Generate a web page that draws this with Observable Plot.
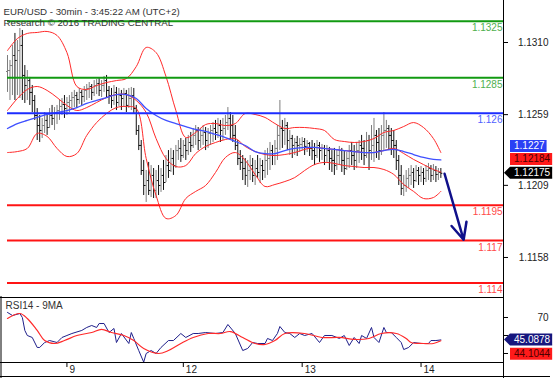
<!DOCTYPE html>
<html><head><meta charset="utf-8">
<script src="https://cdn.jsdelivr.net/npm/d3@7"></script>
<script src="https://cdn.jsdelivr.net/npm/@observablehq/plot@0.6"></script>
<style>
html,body{margin:0;padding:0;background:#fff;}
#chart{position:relative;width:554px;height:378px;overflow:hidden;background:#fff;}
#chart svg{position:absolute;left:0;display:block;}
</style></head><body><div id="chart"></div>
<script>
// ---------- DATA ----------
const titleLines = ["EUR/USD - 30min - 3:45:22 AM (UTC+2)", "Research \u00A9 2016 TRADING CENTRAL"];
const rsiTitle = "RSI14 - 9MA";

// 30-minute OHLC bars (bar index 0 = Sep 8, 12:00)
const opens = [1.12895,1.12902,1.12937,1.13008,1.12973,1.13043,1.13079,1.12867,1.12796,1.12831,
1.12747,1.12690,1.12584,1.12513,1.12478,1.12513,1.12549,1.12499,1.12584,1.12563,
1.12605,1.12619,1.12648,1.12662,1.12633,1.12676,1.12690,1.12711,1.12725,1.12697,
1.12747,1.12718,1.12761,1.12775,1.12789,1.12747,1.12796,1.12810,1.12761,1.12796,
1.12831,1.12761,1.12725,1.12690,1.12747,1.12676,1.12725,1.12704,1.12739,1.12655,
1.12704,1.12725,1.12633,1.12478,1.12372,1.12195,1.12089,1.12124,1.12054,1.12160,
1.12054,1.12124,1.12089,1.12160,1.12110,1.12230,1.12195,1.12280,1.12230,1.12336,
1.12351,1.12301,1.12372,1.12336,1.12393,1.12372,1.12443,1.12478,1.12407,1.12443,
1.12464,1.12407,1.12457,1.12478,1.12492,1.12464,1.12513,1.12478,1.12492,1.12534,
1.12563,1.12513,1.12443,1.12372,1.12280,1.12252,1.12209,1.12160,1.12195,1.12230,
1.12160,1.12209,1.12181,1.12230,1.12195,1.12266,1.12280,1.12336,1.12301,1.12351,
1.12443,1.12492,1.12478,1.12513,1.12407,1.12421,1.12372,1.12393,1.12372,1.12379,
1.12400,1.12365,1.12386,1.12351,1.12336,1.12301,1.12372,1.12336,1.12351,1.12301,
1.12336,1.12280,1.12266,1.12230,1.12301,1.12336,1.12266,1.12209,1.12280,1.12336,
1.12301,1.12266,1.12336,1.12372,1.12351,1.12301,1.12407,1.12336,1.12372,1.12443,
1.12393,1.12336,1.12443,1.12478,1.12492,1.12443,1.12407,1.12372,1.12266,1.12160,
1.12068,1.12089,1.12139,1.12160,1.12181,1.12124,1.12195,1.12160,1.12181,1.12139,
1.12195,1.12209,1.12160,1.12195,1.12167,1.12181];
const highs = [1.13008,1.12973,1.13079,1.13164,1.13114,1.13199,1.13185,1.12937,1.12902,1.12853,
1.12796,1.12725,1.12633,1.12584,1.12563,1.12605,1.12584,1.12633,1.12655,1.12640,
1.12655,1.12690,1.12704,1.12725,1.12711,1.12725,1.12747,1.12761,1.12747,1.12775,
1.12761,1.12789,1.12803,1.12817,1.12803,1.12831,1.12838,1.12845,1.12831,1.12860,
1.12867,1.12789,1.12775,1.12796,1.12782,1.12775,1.12761,1.12775,1.12761,1.12775,
1.12782,1.12775,1.12655,1.12513,1.12407,1.12266,1.12195,1.12252,1.12230,1.12209,
1.12195,1.12230,1.12209,1.12266,1.12301,1.12336,1.12351,1.12336,1.12372,1.12407,
1.12421,1.12407,1.12421,1.12443,1.12464,1.12492,1.12513,1.12499,1.12492,1.12513,
1.12499,1.12492,1.12513,1.12534,1.12549,1.12563,1.12549,1.12563,1.12584,1.12640,
1.12605,1.12584,1.12513,1.12407,1.12336,1.12301,1.12280,1.12266,1.12301,1.12280,
1.12266,1.12301,1.12280,1.12266,1.12336,1.12351,1.12393,1.12372,1.12407,1.12513,
1.12690,1.12549,1.12563,1.12534,1.12478,1.12443,1.12421,1.12436,1.12421,1.12428,
1.12421,1.12407,1.12393,1.12407,1.12386,1.12407,1.12393,1.12379,1.12372,1.12372,
1.12358,1.12336,1.12351,1.12336,1.12365,1.12351,1.12336,1.12322,1.12372,1.12393,
1.12372,1.12393,1.12407,1.12443,1.12407,1.12464,1.12443,1.12513,1.12563,1.12478,
1.12492,1.12513,1.12605,1.12549,1.12513,1.12492,1.12478,1.12407,1.12301,1.12230,
1.12160,1.12195,1.12209,1.12230,1.12209,1.12230,1.12216,1.12223,1.12209,1.12230,
1.12245,1.12230,1.12237,1.12223,1.12209,1.12209];
const lows = [1.12747,1.12690,1.12725,1.12690,1.12725,1.12704,1.12690,1.12669,1.12690,1.12655,
1.12605,1.12549,1.12407,1.12393,1.12421,1.12457,1.12443,1.12492,1.12513,1.12478,
1.12520,1.12549,1.12584,1.12563,1.12584,1.12605,1.12619,1.12640,1.12633,1.12662,
1.12655,1.12676,1.12690,1.12704,1.12690,1.12718,1.12732,1.12718,1.12711,1.12747,
1.12711,1.12662,1.12633,1.12655,1.12619,1.12648,1.12619,1.12640,1.12605,1.12633,
1.12619,1.12598,1.12443,1.12336,1.12160,1.12018,1.11969,1.12018,1.12004,1.11997,
1.11997,1.12018,1.12040,1.12054,1.12110,1.12139,1.12181,1.12160,1.12209,1.12266,
1.12252,1.12280,1.12266,1.12301,1.12322,1.12351,1.12372,1.12336,1.12351,1.12372,
1.12336,1.12351,1.12372,1.12393,1.12407,1.12421,1.12393,1.12407,1.12443,1.12478,
1.12407,1.12393,1.12336,1.12230,1.12195,1.12124,1.12089,1.12075,1.12124,1.12110,
1.12089,1.12139,1.12103,1.12124,1.12139,1.12160,1.12195,1.12230,1.12230,1.12266,
1.12336,1.12351,1.12372,1.12336,1.12301,1.12280,1.12301,1.12294,1.12322,1.12336,
1.12301,1.12322,1.12294,1.12266,1.12230,1.12280,1.12252,1.12266,1.12230,1.12252,
1.12195,1.12181,1.12160,1.12195,1.12230,1.12181,1.12160,1.12195,1.12209,1.12230,
1.12195,1.12209,1.12245,1.12266,1.12230,1.12280,1.12195,1.12266,1.12252,1.12280,
1.12266,1.12301,1.12336,1.12351,1.12336,1.12301,1.12280,1.12195,1.12089,1.12018,
1.12011,1.12040,1.12068,1.12089,1.12068,1.12110,1.12089,1.12110,1.12089,1.12110,
1.12124,1.12110,1.12124,1.12110,1.12124,1.12139];
const closes = [1.12902,1.12937,1.13008,1.12973,1.13043,1.13079,1.12867,1.12796,1.12831,1.12747,
1.12690,1.12584,1.12513,1.12478,1.12513,1.12549,1.12499,1.12584,1.12563,1.12605,
1.12619,1.12648,1.12662,1.12633,1.12676,1.12690,1.12711,1.12725,1.12697,1.12747,
1.12718,1.12761,1.12775,1.12789,1.12747,1.12796,1.12810,1.12761,1.12796,1.12831,
1.12761,1.12725,1.12690,1.12747,1.12676,1.12725,1.12704,1.12739,1.12655,1.12704,
1.12725,1.12633,1.12478,1.12372,1.12195,1.12089,1.12124,1.12054,1.12160,1.12054,
1.12124,1.12089,1.12160,1.12110,1.12230,1.12195,1.12280,1.12230,1.12336,1.12351,
1.12301,1.12372,1.12336,1.12393,1.12372,1.12443,1.12478,1.12407,1.12443,1.12464,
1.12407,1.12457,1.12478,1.12492,1.12464,1.12513,1.12478,1.12492,1.12534,1.12563,
1.12513,1.12443,1.12372,1.12280,1.12252,1.12209,1.12160,1.12195,1.12230,1.12160,
1.12209,1.12181,1.12230,1.12195,1.12266,1.12280,1.12336,1.12301,1.12351,1.12443,
1.12492,1.12478,1.12513,1.12407,1.12421,1.12372,1.12393,1.12372,1.12379,1.12400,
1.12365,1.12386,1.12351,1.12336,1.12301,1.12372,1.12336,1.12351,1.12301,1.12336,
1.12280,1.12266,1.12230,1.12301,1.12336,1.12266,1.12209,1.12280,1.12336,1.12301,
1.12266,1.12336,1.12372,1.12351,1.12301,1.12407,1.12336,1.12372,1.12443,1.12393,
1.12336,1.12443,1.12478,1.12492,1.12443,1.12407,1.12372,1.12266,1.12160,1.12068,
1.12089,1.12139,1.12160,1.12181,1.12124,1.12195,1.12160,1.12181,1.12139,1.12195,
1.12209,1.12160,1.12195,1.12167,1.12181,1.12175];

// Bollinger bands and blue moving average, sampled at these bar indices
const bandIdx = [0,4,8,12,16,20,24,28,32,36,40,44,48,52,56,60,64,68,72,76,80,84,88,92,96,100,104,108,112,116,120,124,128,132,136,140,144,148,152,156,160,164,168,172,175];
const bbUpper = [1.13043,1.13128,1.13164,1.13171,1.13178,1.13150,1.13029,1.12789,1.12768,1.12796,1.12817,1.12831,1.12845,1.12930,1.13065,1.13029,1.12860,1.12619,1.12428,1.12464,1.12520,1.12527,1.12513,1.12527,1.12598,1.12591,1.12570,1.12527,1.12492,1.12499,1.12499,1.12492,1.12478,1.12414,1.12400,1.12393,1.12400,1.12421,1.12464,1.12478,1.12506,1.12534,1.12499,1.12421,1.12322];
const bbMiddle = [1.12619,1.12704,1.12768,1.12789,1.12761,1.12711,1.12655,1.12619,1.12640,1.12676,1.12711,1.12732,1.12732,1.12690,1.12605,1.12421,1.12280,1.12223,1.12230,1.12315,1.12365,1.12393,1.12414,1.12421,1.12365,1.12329,1.12308,1.12301,1.12308,1.12322,1.12344,1.12358,1.12351,1.12344,1.12336,1.12329,1.12322,1.12322,1.12336,1.12351,1.12315,1.12273,1.12237,1.12202,1.12184];
const bbLower = [1.12322,1.12329,1.12351,1.12457,1.12436,1.12351,1.12294,1.12315,1.12443,1.12534,1.12598,1.12640,1.12648,1.12633,1.12280,1.12018,1.11856,1.11877,1.11997,1.12047,1.12089,1.12181,1.12287,1.12322,1.12266,1.12167,1.12082,1.12096,1.12117,1.12145,1.12195,1.12237,1.12252,1.12245,1.12230,1.12223,1.12216,1.12216,1.12202,1.12167,1.12096,1.12047,1.11997,1.12004,1.12047];
const maBlue = [1.12492,1.12527,1.12549,1.12570,1.12591,1.12605,1.12619,1.12640,1.12669,1.12690,1.12711,1.12732,1.12732,1.12704,1.12633,1.12584,1.12549,1.12527,1.12506,1.12485,1.12471,1.12450,1.12428,1.12400,1.12372,1.12329,1.12315,1.12315,1.12336,1.12351,1.12358,1.12358,1.12351,1.12344,1.12336,1.12329,1.12322,1.12322,1.12336,1.12344,1.12329,1.12308,1.12287,1.12273,1.12270];

// key levels
const levelValues = [1.1325, 1.1285, 1.126, 1.1195, 1.117, 1.114];
const levelLabels = ["1.1325", "1.1285", "1.126", "1.1195", "1.117", "1.114"];
const levelKind = ["resistance", "resistance", "pivot", "support", "support", "support"];

// projected move arrow (bar index, price)
const arrowIdx = [176.5, 184.2];
const arrowPrice = [1.12172, 1.11705];

// right price axis ticks
const priceTicks = [1.1310, 1.1259, 1.1209, 1.1158];

// last-value tags
const lastMA = 1.1227, lastMid = 1.12184, lastClose = 1.12175;

// RSI(14) and its 9-period MA
const rsiIdx = [0,2,5,6,7,8,10,12,13,15,17,20,22,24,26,30,32,34,36,37,39,41,43,44,46,49,50,51,53,55,56,58,60,62,65,67,70,72,75,77,80,84,87,89,92,95,97,99,101,104,105,107,109,110,112,114,116,118,120,123,126,128,131,134,136,138,140,142,143,145,147,148,150,152,153,155,157,159,160,162,164,167,170,171,173,175];
const rsiVal = [75.6,72.2,74.4,70.0,55.6,50.0,47.8,36.7,36.7,42.2,44.4,42.2,47.8,50.0,52.2,55.6,58.9,61.1,58.9,63.3,63.3,53.3,57.8,42.2,52.2,41.1,53.3,46.7,33.3,20.4,30.0,33.3,30.0,36.7,44.4,44.4,52.2,47.8,52.2,52.2,53.3,52.2,53.3,62.2,52.2,33.3,35.6,42.2,41.1,41.1,46.7,44.4,52.2,60.0,53.3,52.2,47.8,52.2,50.0,52.2,42.2,50.0,50.0,46.7,50.0,38.9,47.8,41.1,50.0,46.7,58.9,47.8,42.2,58.9,53.3,53.3,47.8,42.2,34.4,36.7,42.2,41.1,41.1,44.4,44.4,45.0878];
const rsiMaIdx = [0,5,8,12,15,19,23,28,34,38,42,47,51,55,61,65,70,75,81,86,90,95,100,104,108,112,120,127,134,140,146,151,157,161,163,168,172,175];
const rsiMaVal = [68.9,74.4,68.9,55.6,44.4,41.1,44.4,50.0,53.3,56.7,53.3,50.0,44.4,35.6,30.0,33.3,41.1,47.8,52.2,52.2,54.4,47.8,41.1,40.0,44.4,52.2,52.2,47.8,47.8,45.6,46.7,52.2,52.2,46.7,42.2,41.1,41.1,44.1044];
const rsiTicks = [70, 50, 30];
const rsiTickLabels = ["70"];   // 50 and 30 sit under the value tags in the reference
const lastRsi = 45.0878, lastRsiMa = 44.1044;

// day ticks on time axis
const dayTickIdx = [24, 71, 119, 167];
const dayTickLabels = ["9", "12", "13", "14"];

// ---------- STYLE / LAYOUT ----------
const FONT = '"Liberation Sans", Arial, Helvetica, sans-serif';
const W = 554;
const xDomain = [0, 200.3];
const priceDomain = [1.11297, 1.13397];
const rsiDomain = [20, 92.2];
const levelStyle = {
  resistance: {line: "#129a12", text: "#4fb04f"},
  pivot: {line: "#1c2cff", text: "#4f5fff"},
  support: {line: "#ff1414", text: "#ff4a4a"}
};
const AX = "#222";
const baseStyle = {background: "transparent", fontFamily: FONT, fontSize: "10px", color: AX, overflow: "visible"};

const bars = closes.map((c, i) => ({i, open: opens[i], high: highs[i], low: lows[i], close: c}));
const upBars = bars.filter(d => d.close >= d.open);
const downBars = bars.filter(d => d.close < d.open);
const bandRows = bandIdx.map((i, k) => ({i, upper: bbUpper[k], middle: bbMiddle[k], lower: bbLower[k], ma: maBlue[k]}));
const rsiRows = rsiIdx.map((i, k) => ({i, v: rsiVal[k]}));
const rsiMaRows = rsiMaIdx.map((i, k) => ({i, v: rsiMaVal[k]}));
const arrowRows = [{x1: arrowIdx[0], y1: arrowPrice[0], x2: arrowIdx[1], y2: arrowPrice[1]}];

function barMarks(data, color) {
  return [
    Plot.ruleX(data, {x: "i", y1: "low", y2: "high", stroke: color, strokeWidth: 1}),
    Plot.link(data, {x1: d => d.i - 0.6, x2: "i", y1: "open", y2: "open", stroke: color, strokeWidth: 1}),
    Plot.link(data, {x1: "i", x2: d => d.i + 0.6, y1: "close", y2: "close", stroke: color, strokeWidth: 1})
  ];
}

const main = Plot.plot({
  width: W, height: 297,
  marginLeft: 7, marginRight: 51, marginTop: 0, marginBottom: 0,
  x: {domain: xDomain, axis: null},
  y: {domain: priceDomain, axis: null},
  style: baseStyle,
  marks: [
    ...barMarks(upBars, "#7d7d7d"),
    ...barMarks(downBars, "#111"),
    Plot.line(bandRows, {x: "i", y: "upper", stroke: "#ff2a2a", strokeWidth: 1, curve: "catmull-rom"}),
    Plot.line(bandRows, {x: "i", y: "middle", stroke: "#ff2a2a", strokeWidth: 1, curve: "catmull-rom"}),
    Plot.line(bandRows, {x: "i", y: "lower", stroke: "#ff2a2a", strokeWidth: 1, curve: "catmull-rom"}),
    Plot.line(bandRows, {x: "i", y: "ma", stroke: "#3f50ff", strokeWidth: 1.3, curve: "catmull-rom"}),
    ...levelValues.map((v, k) => Plot.ruleY([v], {stroke: levelStyle[levelKind[k]].line, strokeWidth: 2})),
    ...levelValues.map((v, k) => Plot.text([v], {y: d => d, text: () => levelLabels[k], frameAnchor: "right", textAnchor: "end", lineAnchor: "middle", dx: -1, dy: 7, fill: levelStyle[levelKind[k]].text})),
    Plot.arrow(arrowRows, {x1: "x1", y1: "y1", x2: "x2", y2: "y2", stroke: "#10108a", strokeWidth: 2.5, headLength: 11, headAngle: 50}),
    Plot.ruleX([xDomain[1]], {stroke: "#000"}),
    Plot.ruleY(priceTicks, {y: d => d, insetLeft: 496, insetRight: -5, stroke: "#000"}),
    Plot.text(priceTicks, {y: d => d, text: d => d.toFixed(4), frameAnchor: "right", dx: 45, textAnchor: "end", lineAnchor: "middle", fill: AX}),
    Plot.text([titleLines[0]], {text: d => d, frameAnchor: "top-left", dx: -4, dy: 14, textAnchor: "start", lineAnchor: "bottom", fill: "#333", fontSize: 9.7}),
    Plot.text([titleLines[1]], {text: d => d, frameAnchor: "top-left", dx: -4, dy: 25.5, textAnchor: "start", lineAnchor: "bottom", fill: "#333", fontSize: 9.7})
  ]
});
main.style.top = "0px";

const rsi = Plot.plot({
  width: W, height: 82,
  marginLeft: 7, marginRight: 51, marginTop: 1, marginBottom: 16,
  x: {domain: xDomain, axis: null},
  y: {domain: rsiDomain, axis: null},
  style: baseStyle,
  marks: [
    Plot.line(rsiRows, {x: "i", y: "v", stroke: "#1f1f8a", strokeWidth: 1}),
    Plot.line(rsiMaRows, {x: "i", y: "v", stroke: "#ff2a2a", strokeWidth: 1.2, curve: "catmull-rom"}),
    Plot.ruleY([rsiDomain[1]], {insetLeft: -7, stroke: "#000"}),
    Plot.ruleY([rsiDomain[0]], {insetLeft: -7, stroke: "#000"}),
    Plot.ruleY([rsiDomain[0]], {dy: 14, insetLeft: -7, insetRight: -47, stroke: "#000"}),
    Plot.ruleX([xDomain[1]], {insetTop: -1, insetBottom: -16, stroke: "#000"}),
    Plot.ruleX([xDomain[0]], {dx: -6.5, insetTop: -1, insetBottom: -16, stroke: "#000"}),
    Plot.ruleY(rsiTicks, {y: d => d, insetLeft: 496, insetRight: -5, stroke: "#000"}),
    Plot.text(rsiTickLabels, {y: d => +d, text: d => d, frameAnchor: "right", dx: 45, textAnchor: "end", lineAnchor: "middle", fill: AX}),
    Plot.ruleX(dayTickIdx, {x: d => d, insetTop: 65, insetBottom: -5, stroke: "#000"}),
    Plot.text(dayTickIdx, {x: d => d, text: (d, k) => dayTickLabels[k], frameAnchor: "bottom", dx: 2.5, dy: 7, textAnchor: "start", lineAnchor: "middle", fill: AX}),
    Plot.text([rsiTitle], {text: d => d, frameAnchor: "top-left", dx: -2, dy: 8.5, textAnchor: "start", lineAnchor: "middle", fill: "#333"})
  ]
});
rsi.style.top = "296px";

const root = document.getElementById("chart");
root.appendChild(main);
root.appendChild(rsi);

// value tags on the right edge, placed with the plots' own scales
function addTag(svg, value, text, offset, fill, textFill, pointer) {
  const sy = svg.scale("y"), sx = svg.scale("x");
  const xr = sx.apply(xDomain[1]);
  const y = sy.apply(value) + offset;
  const g = d3.select(svg).append("g")
    .attr("font-family", FONT).attr("font-size", 10).attr("text-anchor", "start");
  const left = xr + 7;
  const path = g.append("path");
  const t = g.append("text").attr("x", left + 4).attr("y", y).attr("dy", "0.35em")
    .attr("text-anchor", "start").attr("fill", textFill).text(text);
  const w = t.node().getComputedTextLength();
  const right = left + 4 + w + 2;
  path.attr("d", pointer
    ? `M${xr + 1},${y}L${left},${y - 6}H${right}V${y + 6}H${left}Z`
    : `M${left},${y - 6}H${right}V${y + 6}H${left}Z`).attr("fill", fill);
  t.raise();
}
addTag(main, lastMA, "1.1227", -13.5, "#2a40f5", "#fff", false);
addTag(main, lastMid, "1.12184", -12.6, "#ff1a1a", "#4a0000", false);
addTag(main, lastClose, "1.12175", 0, "#000", "#fff", true);
addTag(rsi, lastRsi, "45.0878", 0, "#16167e", "#fff", true);
addTag(rsi, lastRsiMa, "44.1044", 13.5, "#ff1a1a", "#4a0000", false);
</script>
</body></html>
